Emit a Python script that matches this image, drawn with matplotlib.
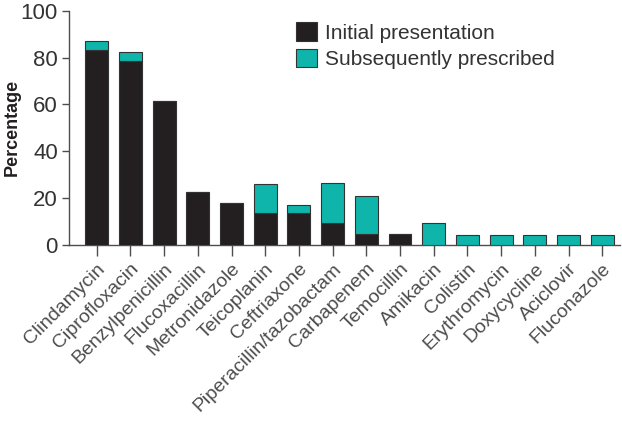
import numpy as np
import matplotlib
matplotlib.use('Agg')
import matplotlib.pyplot as plt

plt.rcParams['font.family'] = ['Liberation Sans', 'DejaVu Sans']

drugs = ['Clindamycin', 'Ciprofloxacin', 'Benzylpenicillin', 'Flucoxacillin',
         'Metronidazole', 'Teicoplanin', 'Ceftriaxone', 'Piperacillin/tazobactam',
         'Carbapenem', 'Temocillin', 'Amikacin', 'Colistin', 'Erythromycin',
         'Doxycycline', 'Aciclovir', 'Fluconazole']
initial = [83.3, 78.7, 61.5, 22.4, 17.7, 13.5, 13.5, 9.5, 4.5, 4.5,
           0, 0, 0, 0, 0, 0]
subsequent = [3.9, 3.6, 0, 0, 0, 12.6, 3.5, 16.8, 16.5, 0,
              9.2, 4.1, 4.1, 4.1, 4.1, 4.1]

black = '#231f20'
teal = '#0fb5aa'
grey = '#4d4d4d'

fig = plt.figure(figsize=(6.22, 4.29), dpi=100)
ax = fig.add_axes([0.111, 0.429, 0.886, 0.546])

x = np.arange(len(drugs))
ax.bar(x, initial, width=0.68, color=black, edgecolor='#333333', linewidth=0.8,
       label='Initial presentation', zorder=3)
ax.bar(x, subsequent, width=0.68, bottom=initial, color=teal, edgecolor='#333333',
       linewidth=0.8, label='Subsequently prescribed', zorder=3)

ax.set_xlim(-0.82, 15.53)
ax.set_ylim(0, 100)
ax.set_yticks([0, 20, 40, 60, 80, 100])
ax.set_xticks(x)
ax.set_xticklabels(drugs, rotation=45, ha='right', va='top',
                   rotation_mode='anchor', fontsize=14, color='#333333')
ax.tick_params(axis='y', labelsize=16, colors=grey, labelcolor='#333333',
               length=5, width=1, pad=3)
ax.tick_params(axis='x', colors=grey, length=8, width=1, pad=3)

for s in ['top', 'right']:
    ax.spines[s].set_visible(False)
for s in ['left', 'bottom']:
    ax.spines[s].set_color(grey)
    ax.spines[s].set_linewidth(1)

ax.set_ylabel('Percentage', fontsize=13, fontweight='bold', color=black)
ax.yaxis.set_label_coords(-0.087, 0.5)

leg = ax.legend(loc='upper left', bbox_to_anchor=(0.39, 1.005), frameon=False,
                fontsize=15, handlelength=1.0, handleheight=1.0,
                handletextpad=0.35, labelspacing=0.3, borderaxespad=0.2)
for t in leg.get_texts():
    t.set_color('#333333')

fig.savefig('out.png', dpi=100)
